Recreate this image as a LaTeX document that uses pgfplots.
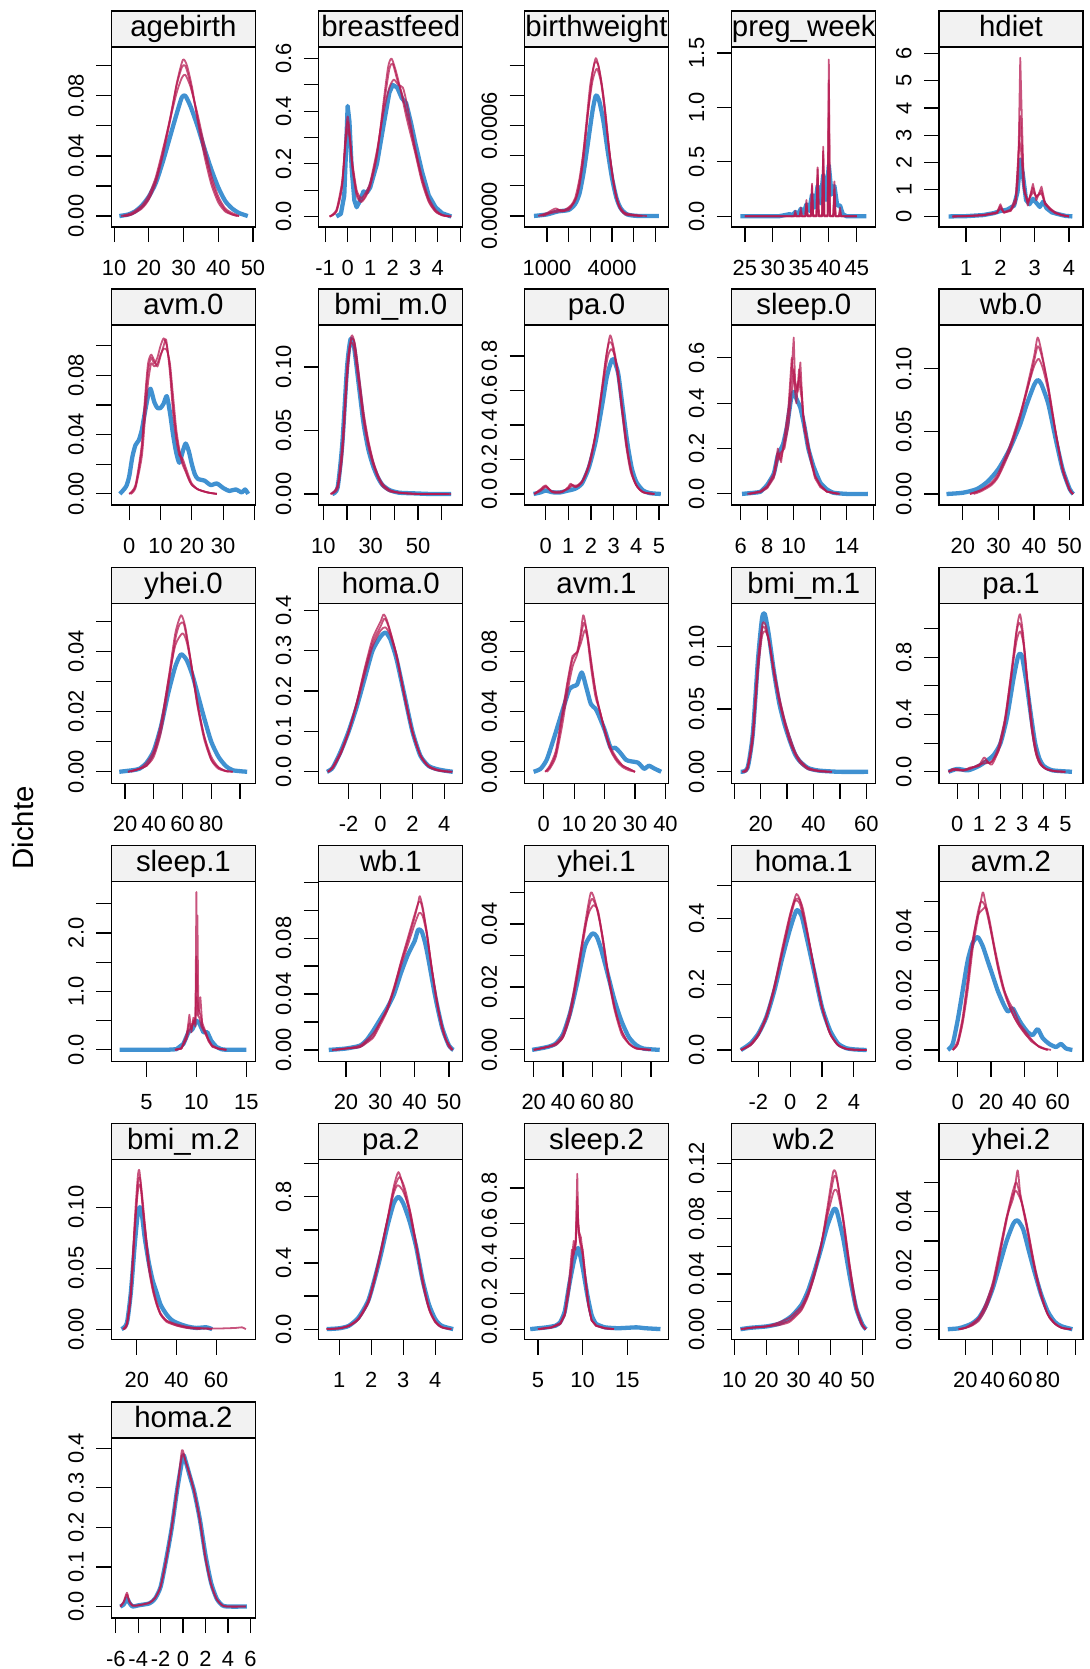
\documentclass[border=0pt]{standalone}
\usepackage{fontspec}
\setmainfont{Liberation Sans}
\usepackage{pgfplots}
\pgfplotsset{compat=1.18}
\definecolor{obsblue}{RGB}{0,108,194}
\definecolor{impred}{RGB}{182,26,81}
\definecolor{stripgray}{RGB}{242,242,242}
\pgfplotsset{
  dens/.style={
    scale only axis, width=144bp, height=180bp, anchor=south west,
    axis line style={line width=1.2bp},
    tick style={black, line width=1.2bp},
    tick align=outside, major tick length=15bp,
    tick pos=left,
    scaled ticks=false,
    tick label style={font=\fontsize{22}{22}\selectfont, inner sep=0pt, outer sep=0pt},
    xticklabel shift=18bp, yticklabel shift=12.5bp,
    xticklabel style={anchor=north},
    yticklabel style={rotate=90, anchor=south},
    every axis title shift=0pt,
    title style={at={(0.5,1)}, anchor=south, yshift=0pt, draw=black, line width=1.2bp, fill=stripgray,
      minimum width=144bp, minimum height=36bp, inner sep=0pt, outer sep=0pt,
      text height=21bp, text depth=6bp,
      font=\fontsize{29.5}{29.5}\selectfont},
  },
  obs/.style={obsblue, opacity=0.75, line width=4.3bp, line join=round, smooth, tension=0.4, mark=none},
  imp/.style={impred, opacity=0.75, line width=1.8bp, line join=round, smooth, tension=0.4, mark=none},
}
\begin{document}
\begin{tikzpicture}
\useasboundingbox (0,0) rectangle (1090bp,-1669bp);
\node[rotate=90, font=\fontsize{29.5}{29.5}\selectfont] at (23bp,-828bp) {Dichte};

% ---------------- Row 1 ----------------
\begin{axis}[dens, at={(111.4bp,-227bp)}, title={agebirth},
  xmin=9.2, xmax=50.7, ymin=-0.0073, ymax=0.1125,
  xtick={10,20,30,40,50}, xticklabels={10,20,30,40,50},
  ytick={0,0.02,0.04,0.06,0.08,0.10}, yticklabels={0.00,{},0.04,{},0.08,{}}]
\addplot[obs] coordinates {(11.5,0)(14,0.001)(16,0.003)(18,0.007)(20,0.013)(22,0.022)(24,0.036)(26,0.052)(28,0.068)(29.5,0.079)(30.5,0.080)(32,0.073)(34,0.060)(36,0.045)(38,0.031)(40,0.019)(42,0.010)(44,0.005)(46,0.002)(48.5,0)};
\addplot[imp] coordinates {(12.5,0)(15,0.001)(18,0.006)(20,0.012)(22,0.024)(24,0.042)(26,0.064)(28,0.087)(29.5,0.099)(30.5,0.100)(32,0.088)(34,0.066)(36,0.043)(38,0.024)(40,0.011)(42,0.004)(44,0.001)(46,0)};
\addplot[imp] coordinates {(12,0)(15,0.002)(18,0.007)(20,0.014)(22,0.026)(24,0.044)(26,0.063)(28,0.082)(29.5,0.092)(30.5,0.094)(32,0.086)(34,0.068)(36,0.047)(38,0.027)(40,0.013)(42,0.005)(44,0.002)(46,0)};
\addplot[imp] coordinates {(13,0)(15,0.001)(18,0.005)(20,0.011)(22,0.022)(24,0.040)(26,0.062)(28,0.088)(29.8,0.104)(31,0.100)(32.5,0.085)(34,0.064)(36,0.040)(38,0.021)(40,0.009)(42,0.003)(44,0.001)(45.5,0)};
\end{axis}

\begin{axis}[dens, at={(318.8bp,-227bp)}, title={breastfeed},
  xmin=-1.28, xmax=5.11, ymin=-0.04, ymax=0.644,
  xtick={-1,0,1,2,3,4,5}, xticklabels={-1,0,1,2,3,4,{}},
  ytick={0,0.1,0.2,0.3,0.4,0.5,0.6}, yticklabels={0.0,{},0.2,{},0.4,{},0.6}]
\addplot[obs, sharp plot] coordinates {(-0.5,0)(-0.3,0.01)(-0.15,0.08)(-0.05,0.3)(0,0.42)(0.08,0.36)(0.18,0.18)(0.3,0.06)(0.4,0.035)(0.55,0.06)(0.7,0.095)(0.85,0.09)(1.0,0.11)(1.3,0.20)(1.6,0.35)(1.85,0.47)(2.0,0.50)(2.2,0.49)(2.4,0.45)(2.6,0.43)(2.8,0.36)(3.0,0.28)(3.3,0.17)(3.6,0.08)(3.9,0.035)(4.2,0.012)(4.6,0)};
\addplot[imp] coordinates {(-0.8,0)(-0.5,0.02)(-0.25,0.12)(-0.1,0.28)(0,0.36)(0.1,0.3)(0.2,0.2)(0.4,0.09)(0.6,0.06)(0.8,0.08)(1.0,0.12)(1.3,0.24)(1.6,0.42)(1.85,0.56)(2.0,0.58)(2.2,0.52)(2.4,0.47)(2.6,0.40)(2.8,0.33)(3.0,0.25)(3.3,0.14)(3.6,0.06)(3.9,0.02)(4.2,0.005)(4.6,0)};
\addplot[imp] coordinates {(-0.8,0)(-0.5,0.025)(-0.25,0.13)(-0.1,0.27)(0,0.33)(0.1,0.29)(0.2,0.21)(0.4,0.1)(0.6,0.07)(0.8,0.09)(1.0,0.13)(1.3,0.25)(1.6,0.4)(1.85,0.49)(2.05,0.52)(2.25,0.5)(2.45,0.49)(2.6,0.44)(2.8,0.35)(3.0,0.26)(3.3,0.15)(3.6,0.07)(3.9,0.025)(4.2,0.006)(4.6,0)};
\addplot[imp] coordinates {(-0.8,0)(-0.5,0.018)(-0.25,0.11)(-0.1,0.3)(0,0.38)(0.1,0.31)(0.2,0.19)(0.4,0.08)(0.6,0.055)(0.8,0.075)(1.0,0.115)(1.3,0.23)(1.6,0.44)(1.8,0.57)(1.95,0.6)(2.15,0.55)(2.35,0.48)(2.6,0.38)(2.8,0.31)(3.0,0.24)(3.3,0.13)(3.6,0.055)(3.9,0.018)(4.2,0.004)(4.5,0)};
\end{axis}

\begin{axis}[dens, at={(524.5bp,-227bp)}, title={birthweight},
  xmin=-36, xmax=6600, ymin=-0.0000735, ymax=0.001124,
  xtick={1000,2000,3000,4000,5000,6000}, xticklabels={1000,{},{},4000,{},{}},
  ytick={0,0.0002,0.0004,0.0006,0.0008,0.0010}, yticklabels={0.0000,{},{},0.0006,{},{}}]
\addplot[obs] coordinates {(400,0)(1000,0.00001)(1500,0.00003)(2000,0.00004)(2300,0.00008)(2500,0.00015)(2700,0.0003)(2900,0.0005)(3100,0.0007)(3250,0.0008)(3400,0.00077)(3600,0.00063)(3800,0.00043)(4000,0.00025)(4200,0.00012)(4400,0.00005)(4700,0.00001)(5200,0)(6160,0)};
\addplot[imp] coordinates {(600,0)(1000,0.00002)(1400,0.00005)(1700,0.00003)(2000,0.00005)(2300,0.0001)(2500,0.0002)(2700,0.0004)(2900,0.0007)(3100,0.00095)(3250,0.00105)(3400,0.00098)(3600,0.0008)(3800,0.00052)(4000,0.00028)(4200,0.00012)(4400,0.00004)(4700,0.00001)(5600,0)};
\addplot[imp] coordinates {(700,0)(1100,0.00002)(1500,0.00004)(1800,0.00004)(2100,0.00007)(2300,0.00012)(2500,0.00025)(2700,0.00045)(2900,0.0007)(3100,0.0009)(3300,0.00098)(3500,0.00088)(3700,0.00065)(3900,0.0004)(4100,0.0002)(4300,0.00008)(4600,0.00002)(5400,0)};
\addplot[imp] coordinates {(800,0)(1200,0.00002)(1600,0.00003)(2000,0.00004)(2200,0.00008)(2400,0.00015)(2600,0.00032)(2800,0.0006)(3000,0.00088)(3200,0.00102)(3350,0.00101)(3500,0.0009)(3700,0.00068)(3900,0.0004)(4100,0.00019)(4300,0.00007)(4600,0.00001)(5300,0)};
\end{axis}

\begin{axis}[dens, at={(731.8bp,-227bp)}, title={preg\_week},
  xmin=22.66, xmax=48.4, ymin=-0.098, ymax=1.555,
  xtick={25,30,35,40,45}, xticklabels={25,30,35,40,45},
  ytick={0,0.5,1.0,1.5}, yticklabels={0.0,0.5,1.0,1.5}]
\addplot[obs, sharp plot] coordinates {(24.2,0)(31,0)(32,0.01)(33,0.02)(33.5,0.01)(34,0.04)(34.5,0.02)(35,0.07)(35.5,0.03)(36,0.11)(36.5,0.05)(37,0.2)(37.5,0.08)(38,0.28)(38.5,0.12)(39,0.38)(39.5,0.15)(40,0.47)(40.5,0.2)(41,0.28)(41.5,0.1)(42,0.1)(42.5,0.02)(43.2,0)(46.7,0)};
\addplot[imp, sharp plot] coordinates {(25,0)(33.8,0)(34,0.05)(34.2,0)(34.8,0)(35,0.08)(35.2,0)(35.8,0)(36,0.12)(36.2,0.01)(36.8,0.01)(37,0.28)(37.2,0.01)(37.8,0.01)(38,0.43)(38.2,0.01)(38.8,0.01)(39,0.64)(39.2,0.01)(39.8,0.01)(40,1.44)(40.2,0.01)(40.8,0)(41,0.25)(41.2,0)(41.8,0)(42,0.05)(42.2,0)(45,0)};
\addplot[imp, sharp plot] coordinates {(25,0)(34.8,0)(35,0.05)(35.2,0)(35.8,0)(36,0.1)(36.2,0)(36.8,0)(37,0.22)(37.2,0)(37.8,0)(38,0.45)(38.2,0)(38.8,0)(39,0.6)(39.2,0)(39.8,0)(40,1.25)(40.2,0)(40.8,0)(41,0.32)(41.2,0)(41.8,0)(42,0.08)(42.2,0)(45,0)};
\addplot[imp, sharp plot] coordinates {(25,0)(33.8,0)(34,0.03)(34.2,0)(35.8,0)(36,0.15)(36.2,0)(36.8,0)(37,0.3)(37.2,0)(37.8,0)(38,0.38)(38.2,0)(38.8,0)(39,0.52)(39.2,0)(39.8,0)(40,0.95)(40.2,0)(40.8,0)(41,0.2)(41.2,0)(45,0)};
\end{axis}

\begin{axis}[dens, at={(939bp,-227bp)}, title={hdiet},
  xmin=0.21, xmax=4.41, ymin=-0.39, ymax=6.25,
  xtick={1,2,3,4}, xticklabels={1,2,3,4},
  ytick={0,1,2,3,4,5,6}, yticklabels={0,1,2,3,4,5,6}]
\addplot[obs, sharp plot] coordinates {(0.49,0)(1.0,0.01)(1.5,0.05)(1.8,0.12)(2.0,0.2)(2.2,0.25)(2.4,0.4)(2.5,0.9)(2.58,2.1)(2.65,1.6)(2.75,0.6)(2.85,0.45)(2.95,0.65)(3.05,0.5)(3.15,0.35)(3.25,0.55)(3.35,0.3)(3.5,0.15)(3.7,0.08)(3.9,0.02)(4.1,0)};
\addplot[imp, sharp plot] coordinates {(0.6,0)(1.0,0.01)(1.5,0.05)(1.9,0.15)(2.0,0.45)(2.1,0.15)(2.3,0.2)(2.45,0.5)(2.52,1.5)(2.58,5.85)(2.62,3.9)(2.68,1.2)(2.8,0.4)(2.95,1.2)(3.05,0.6)(3.2,1.1)(3.3,0.5)(3.45,0.3)(3.6,0.15)(3.8,0.05)(4.0,0)};
\addplot[imp, sharp plot] coordinates {(0.6,0)(1.0,0.01)(1.5,0.04)(1.9,0.12)(2.0,0.38)(2.1,0.13)(2.3,0.22)(2.45,0.6)(2.52,2.0)(2.58,3.7)(2.63,2.6)(2.7,0.9)(2.8,0.5)(2.95,1.05)(3.05,0.7)(3.2,0.95)(3.3,0.45)(3.45,0.25)(3.6,0.12)(3.8,0.04)(4.0,0)};
\addplot[imp, sharp plot] coordinates {(0.6,0)(1.0,0.015)(1.5,0.05)(1.9,0.14)(2.0,0.3)(2.1,0.16)(2.3,0.25)(2.45,0.7)(2.55,2.8)(2.6,2.5)(2.68,1.0)(2.8,0.55)(2.95,0.9)(3.05,0.75)(3.2,0.85)(3.3,0.5)(3.45,0.28)(3.6,0.13)(3.8,0.05)(4.0,0)};
\end{axis}

% ---------------- Row 2 ----------------
\begin{axis}[dens, at={(111.4bp,-505bp)}, title={avm.0},
  xmin=-5.7, xmax=40.3, ymin=-0.0075, ymax=0.114,
  xtick={0,10,20,30,40}, xticklabels={0,10,20,30,{}},
  ytick={0,0.02,0.04,0.06,0.08,0.10}, yticklabels={0.00,{},0.04,{},0.08,{}}]
\addplot[obs] coordinates {(-3,0)(-1,0.005)(0,0.012)(1,0.025)(2,0.033)(3,0.036)(4,0.043)(5,0.055)(6,0.066)(6.8,0.071)(8,0.062)(9,0.058)(10,0.058)(11,0.061)(12,0.066)(13,0.055)(14,0.04)(15,0.028)(16,0.021)(17,0.028)(18,0.034)(19,0.029)(20,0.02)(21,0.013)(22,0.01)(24,0.009)(26,0.006)(28,0.007)(30,0.004)(32,0.002)(34,0.003)(36,0.001)(37,0.003)(38,0)};
\addplot[imp] coordinates {(0,0)(2,0.005)(4,0.03)(5,0.06)(6,0.083)(7,0.092)(8,0.088)(9,0.092)(10,0.1)(11,0.105)(12,0.1)(13,0.085)(14,0.06)(15,0.04)(16,0.028)(17,0.02)(18,0.015)(19,0.01)(20,0.006)(22,0.003)(25,0.001)(28,0)};
\addplot[imp] coordinates {(0.5,0)(2,0.004)(4,0.025)(5,0.05)(6,0.075)(7,0.088)(8,0.086)(9,0.088)(10,0.094)(11,0.098)(12,0.097)(13,0.088)(14,0.066)(15,0.044)(16,0.03)(17,0.022)(18,0.016)(19,0.01)(20,0.006)(22,0.003)(25,0.001)(28,0)};
\addplot[imp] coordinates {(0,0)(2,0.006)(4,0.033)(5,0.064)(6,0.088)(7,0.094)(8,0.09)(9,0.086)(10,0.093)(11,0.1)(11.8,0.104)(13,0.082)(14,0.055)(15,0.037)(16,0.026)(17,0.024)(18,0.018)(19,0.012)(20,0.007)(22,0.003)(25,0.001)(28,0)};
\end{axis}

\begin{axis}[dens, at={(318.8bp,-505bp)}, title={bmi\_m.0},
  xmin=8.05, xmax=68.9, ymin=-0.0087, ymax=0.133,
  xtick={10,20,30,40,50,60}, xticklabels={10,{},30,{},50,{}},
  ytick={0,0.05,0.10}, yticklabels={0.00,0.05,0.10}]
\addplot[obs] coordinates {(13.8,0)(16,0.005)(18,0.04)(20,0.1)(21.5,0.122)(23,0.115)(25,0.085)(27,0.055)(29,0.035)(31,0.022)(33,0.013)(35,0.007)(38,0.003)(42,0.001)(48,0.0005)(55,0)(64,0)};
\addplot[imp] coordinates {(13,0)(16,0.006)(18,0.035)(20,0.095)(21.5,0.12)(23,0.12)(25,0.09)(27,0.06)(29,0.04)(31,0.025)(33,0.014)(35,0.007)(38,0.003)(42,0.001)(50,0)(64,0)};
\addplot[imp] coordinates {(13,0)(16,0.004)(18,0.03)(20,0.09)(21.8,0.124)(23.3,0.118)(25,0.094)(27,0.064)(29,0.042)(31,0.026)(33,0.015)(35,0.008)(38,0.003)(42,0.001)(50,0)(63,0)};
\addplot[imp] coordinates {(13.5,0)(16,0.007)(18,0.04)(20,0.1)(21.3,0.118)(22.8,0.116)(25,0.086)(27,0.057)(29,0.037)(31,0.023)(33,0.013)(35,0.006)(38,0.002)(42,0.001)(50,0)(62,0)};
\end{axis}

\begin{axis}[dens, at={(524.5bp,-505bp)}, title={pa.0},
  xmin=-0.93, xmax=5.42, ymin=-0.064, ymax=0.98,
  xtick={0,1,2,3,4,5}, xticklabels={0,1,2,3,4,5},
  ytick={0,0.2,0.4,0.6,0.8}, yticklabels={0.0,0.2,0.4,0.6,0.8}]
\addplot[obs] coordinates {(-0.53,0)(-0.2,0.01)(0,0.02)(0.3,0.01)(0.6,0.008)(1.0,0.02)(1.3,0.03)(1.6,0.06)(1.9,0.15)(2.2,0.3)(2.5,0.52)(2.7,0.68)(2.9,0.77)(3.0,0.78)(3.2,0.7)(3.4,0.5)(3.6,0.3)(3.8,0.15)(4.0,0.07)(4.3,0.02)(4.6,0.005)(5.08,0)};
\addplot[imp] coordinates {(-0.5,0)(-0.2,0.03)(0,0.05)(0.3,0.01)(0.7,0.01)(1.0,0.04)(1.1,0.06)(1.3,0.04)(1.6,0.07)(1.9,0.17)(2.2,0.35)(2.5,0.62)(2.7,0.82)(2.85,0.92)(3.0,0.85)(3.2,0.7)(3.4,0.47)(3.6,0.26)(3.8,0.12)(4.0,0.05)(4.3,0.01)(4.8,0)};
\addplot[imp] coordinates {(-0.5,0)(-0.2,0.02)(0,0.04)(0.3,0.015)(0.7,0.015)(1.0,0.03)(1.2,0.05)(1.4,0.05)(1.7,0.09)(2.0,0.2)(2.3,0.42)(2.55,0.65)(2.75,0.8)(2.9,0.84)(3.05,0.8)(3.25,0.63)(3.45,0.42)(3.65,0.22)(3.85,0.1)(4.05,0.04)(4.3,0.01)(4.8,0)};
\addplot[imp] coordinates {(-0.5,0)(-0.2,0.025)(0,0.045)(0.3,0.012)(0.7,0.01)(1.0,0.035)(1.15,0.055)(1.35,0.04)(1.6,0.065)(1.9,0.16)(2.2,0.34)(2.45,0.58)(2.65,0.78)(2.8,0.88)(2.95,0.86)(3.15,0.72)(3.35,0.5)(3.55,0.28)(3.75,0.13)(4.0,0.05)(4.3,0.01)(4.8,0)};
\end{axis}

\begin{axis}[dens, at={(731.8bp,-505bp)}, title={sleep.0},
  xmin=5.33, xmax=16.19, ymin=-0.049, ymax=0.745,
  xtick={6,8,10,12,14,16}, xticklabels={6,8,10,{},14,{}},
  ytick={0,0.2,0.4,0.6}, yticklabels={0.0,0.2,0.4,0.6}]
\addplot[obs, tension=0.3] coordinates {(6.1,0)(7,0.005)(7.5,0.01)(8,0.04)(8.5,0.09)(8.8,0.17)(9.2,0.22)(9.5,0.3)(9.8,0.42)(10,0.45)(10.2,0.42)(10.5,0.38)(10.8,0.3)(11.1,0.2)(11.5,0.12)(12,0.05)(12.5,0.02)(13,0.005)(14,0)(15.6,0)};
\addplot[imp, sharp plot] coordinates {(6.5,0)(7.5,0.01)(8,0.03)(8.5,0.08)(8.8,0.2)(9.0,0.15)(9.3,0.22)(9.6,0.35)(9.8,0.5)(10.0,0.69)(10.1,0.5)(10.3,0.45)(10.5,0.58)(10.7,0.35)(11.0,0.25)(11.3,0.15)(11.6,0.08)(12.0,0.04)(12.5,0.01)(13.5,0)};
\addplot[imp, sharp plot] coordinates {(6.7,0)(7.5,0.008)(8,0.025)(8.5,0.07)(8.8,0.15)(9.0,0.18)(9.3,0.2)(9.6,0.3)(9.8,0.42)(10.0,0.55)(10.15,0.45)(10.4,0.5)(10.6,0.42)(10.8,0.3)(11.0,0.22)(11.3,0.14)(11.6,0.07)(12.0,0.03)(12.5,0.01)(13.3,0)};
\addplot[imp, sharp plot] coordinates {(6.6,0)(7.5,0.012)(8,0.035)(8.5,0.09)(8.8,0.18)(9.05,0.14)(9.3,0.25)(9.6,0.38)(9.85,0.6)(10.0,0.5)(10.2,0.4)(10.4,0.55)(10.6,0.45)(10.8,0.28)(11.0,0.24)(11.3,0.16)(11.6,0.08)(12.0,0.035)(12.5,0.01)(13.4,0)};
\end{axis}

\begin{axis}[dens, at={(939bp,-505bp)}, title={wb.0},
  xmin=13.3, xmax=53.75, ymin=-0.0088, ymax=0.135,
  xtick={20,30,40,50}, xticklabels={20,30,40,50},
  ytick={0,0.05,0.10}, yticklabels={0.00,0.05,0.10}]
\addplot[obs] coordinates {(15.4,0)(20,0.001)(24,0.004)(27,0.01)(30,0.02)(33,0.035)(36,0.055)(38,0.072)(40,0.087)(41,0.091)(42,0.088)(44,0.072)(46,0.045)(48,0.02)(50,0.004)(51,0)};
\addplot[imp] coordinates {(22,0)(25,0.003)(28,0.008)(30,0.015)(33,0.035)(36,0.062)(38,0.085)(40,0.11)(41,0.125)(42,0.115)(44,0.085)(46,0.05)(48,0.02)(50,0.003)(51,0)};
\addplot[imp] coordinates {(22,0)(25,0.003)(28,0.009)(30,0.017)(33,0.037)(36,0.063)(38,0.083)(40,0.102)(41.3,0.108)(42.5,0.1)(44,0.082)(46,0.05)(48,0.021)(50,0.004)(51,0)};
\addplot[imp] coordinates {(23,0)(25,0.002)(28,0.007)(30,0.014)(33,0.033)(36,0.06)(38,0.082)(40,0.106)(41,0.118)(42,0.112)(44,0.086)(46,0.051)(48,0.019)(50,0.003)(51,0)};
\end{axis}

% ---------------- Row 3 ----------------
\begin{axis}[dens, at={(111.4bp,-783.5bp)}, title={yhei.0},
  xmin=10.5, xmax=110.75, ymin=-0.0039, ymax=0.0559,
  xtick={20,40,60,80,100}, xticklabels={20,40,60,80,{}},
  ytick={0,0.01,0.02,0.03,0.04,0.05}, yticklabels={0.00,{},0.02,{},0.04,{}}]
\addplot[obs] coordinates {(16,0)(25,0.0005)(30,0.001)(35,0.003)(40,0.007)(45,0.015)(50,0.026)(55,0.035)(59,0.039)(63,0.037)(67,0.032)(71,0.025)(75,0.018)(80,0.01)(85,0.005)(90,0.002)(95,0.0005)(105,0)};
\addplot[imp] coordinates {(22,0)(30,0.001)(35,0.002)(40,0.006)(45,0.015)(50,0.03)(55,0.046)(59,0.052)(62,0.048)(66,0.036)(70,0.023)(75,0.011)(80,0.004)(85,0.0015)(90,0.0003)(95,0)};
\addplot[imp] coordinates {(22,0)(30,0.001)(35,0.003)(40,0.007)(45,0.016)(50,0.03)(55,0.042)(60,0.046)(63,0.043)(67,0.033)(71,0.021)(75,0.012)(80,0.005)(85,0.0015)(90,0.0003)(95,0)};
\addplot[imp] coordinates {(24,0)(30,0.001)(35,0.002)(40,0.005)(45,0.013)(50,0.028)(55,0.044)(58,0.049)(61,0.049)(65,0.039)(70,0.024)(75,0.012)(80,0.004)(85,0.001)(92,0)};
\end{axis}

\begin{axis}[dens, at={(318.8bp,-783.5bp)}, title={homa.0},
  xmin=-3.87, xmax=5.16, ymin=-0.029, ymax=0.417,
  xtick={-2,0,2,4}, xticklabels={-2,0,2,4},
  ytick={0,0.1,0.2,0.3,0.4}, yticklabels={0.0,0.1,0.2,0.3,0.4}]
\addplot[obs] coordinates {(-3.36,0)(-3,0.01)(-2.5,0.05)(-2,0.1)(-1.5,0.16)(-1,0.23)(-0.5,0.3)(0,0.335)(0.3,0.345)(0.6,0.33)(1,0.28)(1.5,0.19)(2,0.1)(2.5,0.04)(3,0.015)(3.5,0.007)(4,0.003)(4.53,0)};
\addplot[imp] coordinates {(-3.3,0)(-3,0.01)(-2.5,0.045)(-2,0.1)(-1.5,0.17)(-1,0.25)(-0.5,0.32)(0,0.36)(0.25,0.38)(0.5,0.36)(1,0.29)(1.5,0.19)(2,0.1)(2.5,0.04)(3,0.014)(3.5,0.005)(4,0.001)(4.5,0)};
\addplot[imp] coordinates {(-3.3,0)(-3,0.012)(-2.5,0.05)(-2,0.1)(-1.5,0.165)(-1,0.24)(-0.5,0.31)(0,0.35)(0.3,0.358)(0.6,0.34)(1,0.285)(1.5,0.19)(2,0.1)(2.5,0.042)(3,0.015)(3.5,0.006)(4,0.002)(4.5,0)};
\addplot[imp] coordinates {(-3.3,0)(-3,0.009)(-2.5,0.044)(-2,0.098)(-1.5,0.17)(-1,0.255)(-0.5,0.33)(0,0.372)(0.2,0.39)(0.45,0.37)(1,0.29)(1.5,0.185)(2,0.098)(2.5,0.04)(3,0.013)(3.5,0.004)(4,0.001)(4.4,0)};
\end{axis}

\begin{axis}[dens, at={(524.5bp,-783.5bp)}, title={avm.1},
  xmin=-6.3, xmax=41, ymin=-0.0078, ymax=0.1118,
  xtick={0,10,20,30,40}, xticklabels={0,10,20,30,40},
  ytick={0,0.02,0.04,0.06,0.08,0.10}, yticklabels={0.00,{},0.04,{},0.08,{}}]
\addplot[obs] coordinates {(-3.3,0)(-1,0.002)(1,0.008)(3,0.02)(5,0.033)(7,0.046)(8.5,0.055)(10,0.057)(11,0.058)(12.5,0.066)(14,0.056)(15.5,0.045)(17,0.042)(18,0.038)(20,0.028)(22,0.016)(23.5,0.016)(25,0.013)(27,0.008)(28.5,0.007)(31,0.006)(33,0.002)(34.5,0.004)(36.5,0.002)(38.6,0)};
\addplot[imp] coordinates {(0.5,0)(2,0.003)(4,0.012)(6,0.035)(8,0.06)(9.5,0.075)(11,0.08)(12,0.09)(13,0.104)(14,0.095)(15.5,0.07)(17,0.05)(18.5,0.04)(20,0.028)(22,0.015)(24,0.008)(26,0.004)(28,0.002)(30,0)};
\addplot[imp] coordinates {(0.5,0)(2,0.004)(4,0.014)(6,0.038)(8,0.062)(9.5,0.077)(11,0.079)(12.3,0.086)(13.5,0.094)(14.5,0.088)(16,0.066)(17.5,0.048)(19,0.036)(20.5,0.025)(22,0.016)(24,0.009)(26,0.004)(28,0.002)(30,0)};
\addplot[imp] coordinates {(1,0)(2,0.002)(4,0.01)(6,0.03)(8,0.055)(9.5,0.07)(11,0.078)(12,0.088)(13.2,0.099)(14.3,0.092)(15.5,0.075)(17,0.054)(18.5,0.04)(20,0.027)(22,0.014)(24,0.007)(26,0.003)(28,0.001)(30,0)};
\end{axis}

\begin{axis}[dens, at={(731.8bp,-783.5bp)}, title={bmi\_m.1},
  xmin=9.06, xmax=63.6, ymin=-0.0093, ymax=0.134,
  xtick={10,20,30,40,50,60}, xticklabels={{},20,{},40,{},60},
  ytick={0,0.05,0.10}, yticklabels={0.00,0.05,0.10}]
\addplot[obs] coordinates {(12.4,0)(15,0.003)(17,0.03)(19,0.09)(20.5,0.122)(21.5,0.126)(23,0.11)(25,0.08)(27,0.055)(29,0.038)(31,0.025)(33,0.014)(35,0.008)(38,0.003)(42,0.001)(50,0)(60.7,0)};
\addplot[imp] coordinates {(13,0)(15,0.003)(17,0.028)(19,0.085)(20.5,0.113)(21.5,0.115)(23,0.105)(25,0.08)(27,0.058)(29,0.04)(31,0.025)(33,0.015)(35,0.008)(38,0.003)(42,0.0005)(47,0)};
\addplot[imp] coordinates {(13,0)(15,0.004)(17,0.032)(19,0.09)(20.7,0.118)(22,0.116)(23.5,0.1)(25,0.082)(27,0.06)(29,0.042)(31,0.028)(33,0.016)(35,0.009)(38,0.003)(42,0.001)(47,0)};
\addplot[imp] coordinates {(13.5,0)(15,0.002)(17,0.025)(19,0.08)(20.5,0.108)(21.8,0.112)(23.2,0.104)(25,0.078)(27,0.056)(29,0.039)(31,0.024)(33,0.014)(35,0.007)(38,0.002)(42,0.0005)(46,0)};
\end{axis}

\begin{axis}[dens, at={(939bp,-783.5bp)}, title={pa.1},
  xmin=-0.84, xmax=5.81, ymin=-0.082, ymax=1.175,
  xtick={0,1,2,3,4,5}, xticklabels={0,1,2,3,4,5},
  ytick={0,0.2,0.4,0.6,0.8,1.0}, yticklabels={0.0,{},0.4,{},0.8,{}}]
\addplot[obs] coordinates {(-0.4,0)(0,0.02)(0.5,0.01)(1,0.04)(1.4,0.08)(1.7,0.12)(2.0,0.2)(2.3,0.38)(2.6,0.65)(2.8,0.8)(2.9,0.825)(3.0,0.8)(3.2,0.62)(3.4,0.4)(3.6,0.2)(3.8,0.09)(4.0,0.04)(4.4,0.01)(5.3,0)};
\addplot[imp] coordinates {(-0.4,0)(-0.2,0.02)(0,0.01)(0.3,0.01)(0.6,0.03)(1.0,0.04)(1.3,0.08)(1.6,0.05)(1.9,0.15)(2.2,0.35)(2.5,0.7)(2.75,1.0)(2.9,1.1)(3.05,0.95)(3.25,0.6)(3.45,0.3)(3.65,0.12)(3.85,0.05)(4.1,0.02)(4.5,0.005)(5.0,0)};
\addplot[imp] coordinates {(-0.4,0)(-0.2,0.015)(0,0.02)(0.3,0.008)(0.6,0.02)(1.0,0.05)(1.3,0.06)(1.6,0.07)(1.9,0.17)(2.2,0.37)(2.5,0.68)(2.75,0.92)(2.92,0.98)(3.1,0.86)(3.3,0.55)(3.5,0.28)(3.7,0.12)(3.9,0.05)(4.1,0.02)(4.5,0.004)(5.0,0)};
\addplot[imp] coordinates {(-0.4,0)(-0.2,0.01)(0,0.015)(0.3,0.012)(0.6,0.025)(1.0,0.045)(1.25,0.1)(1.5,0.06)(1.9,0.14)(2.2,0.33)(2.5,0.66)(2.72,0.95)(2.85,1.04)(3.0,0.98)(3.2,0.68)(3.4,0.35)(3.6,0.15)(3.8,0.06)(4.1,0.02)(4.5,0.004)(5.0,0)};
\end{axis}

% ---------------- Row 4 ----------------
\begin{axis}[dens, at={(111.4bp,-1061.5bp)}, title={sleep.1},
  xmin=1.5, xmax=15.9, ymin=-0.2, ymax=2.88,
  xtick={5,10,15}, xticklabels={5,10,15},
  ytick={0,0.5,1.0,1.5,2.0,2.5}, yticklabels={0.0,{},1.0,{},2.0,{}}]
\addplot[obs, sharp plot] coordinates {(2.32,0)(7,0)(8,0.01)(8.7,0.1)(9.2,0.3)(9.6,0.35)(10,0.5)(10.3,0.45)(10.7,0.3)(11.1,0.3)(11.5,0.15)(12,0.05)(12.5,0.01)(13,0)(15,0)};
\addplot[imp, sharp plot] coordinates {(7.86,0)(8.5,0.02)(9,0.2)(9.3,0.6)(9.5,0.3)(9.7,0.55)(9.9,0.4)(10,2.7)(10.05,1.0)(10.1,2.3)(10.2,0.6)(10.4,0.9)(10.6,0.4)(10.9,0.3)(11.2,0.15)(11.6,0.05)(12.2,0.02)(13,0)};
\addplot[imp, sharp plot] coordinates {(7.86,0)(8.5,0.03)(9,0.25)(9.3,0.45)(9.5,0.35)(9.7,0.5)(9.9,0.45)(10,1.6)(10.1,0.9)(10.2,0.7)(10.4,0.6)(10.6,0.45)(10.9,0.32)(11.2,0.18)(11.6,0.06)(12.2,0.02)(13,0)};
\addplot[imp, sharp plot] coordinates {(7.9,0)(8.5,0.02)(9,0.18)(9.3,0.35)(9.5,0.4)(9.7,0.45)(9.9,0.55)(10,0.9)(10.1,0.6)(10.3,0.55)(10.5,0.4)(10.8,0.3)(11.1,0.2)(11.5,0.08)(12.2,0.02)(13,0)};
\end{axis}

\begin{axis}[dens, at={(318.8bp,-1061.5bp)}, title={wb.1},
  xmin=12.1, xmax=54, ymin=-0.0083, ymax=0.1205,
  xtick={20,30,40,50}, xticklabels={20,30,40,50},
  ytick={0,0.02,0.04,0.06,0.08,0.10,0.12}, yticklabels={0.00,{},0.04,{},0.08,{},{}}]
\addplot[obs] coordinates {(15,0)(20,0.001)(24,0.003)(26,0.007)(28,0.014)(30,0.022)(32,0.03)(34,0.04)(36,0.055)(38,0.068)(40,0.078)(41,0.086)(42,0.085)(43,0.077)(44,0.065)(46,0.038)(48,0.016)(50,0.003)(51.3,0)};
\addplot[imp] coordinates {(16,0)(20,0.001)(24,0.002)(26,0.006)(28,0.01)(30,0.02)(32,0.03)(34,0.045)(36,0.062)(38,0.078)(40,0.095)(41,0.105)(41.5,0.11)(42.5,0.1)(44,0.075)(46,0.04)(48,0.015)(50,0.002)(51,0)};
\addplot[imp] coordinates {(16,0)(20,0.001)(24,0.003)(26,0.007)(28,0.012)(30,0.02)(32,0.029)(34,0.043)(36,0.06)(38,0.075)(40,0.09)(41.3,0.098)(42.3,0.096)(43.5,0.083)(45,0.058)(47,0.028)(49,0.008)(51,0)};
\addplot[imp] coordinates {(17,0)(20,0.001)(24,0.002)(26,0.005)(28,0.009)(30,0.018)(32,0.028)(34,0.044)(36,0.063)(38,0.08)(40,0.097)(41.2,0.106)(42,0.104)(43.5,0.085)(45,0.058)(47,0.027)(49,0.008)(51,0)};
\end{axis}

\begin{axis}[dens, at={(524.5bp,-1061.5bp)}, title={yhei.1},
  xmin=13.7, xmax=112, ymin=-0.0037, ymax=0.0535,
  xtick={20,40,60,80,100}, xticklabels={20,40,60,80,{}},
  ytick={0,0.01,0.02,0.03,0.04,0.05}, yticklabels={0.00,{},0.02,{},0.04,{}}]
\addplot[obs] coordinates {(18.9,0)(25,0.0005)(30,0.001)(35,0.002)(40,0.005)(45,0.012)(50,0.022)(55,0.033)(60,0.037)(63,0.036)(66,0.032)(70,0.025)(75,0.016)(80,0.009)(85,0.004)(90,0.0015)(95,0.0004)(106,0)};
\addplot[imp] coordinates {(20,0)(30,0.001)(35,0.002)(40,0.004)(45,0.012)(50,0.025)(55,0.04)(59,0.05)(62,0.047)(65,0.041)(70,0.026)(75,0.014)(80,0.006)(85,0.002)(90,0.0005)(100,0)};
\addplot[imp] coordinates {(20,0)(30,0.001)(35,0.002)(40,0.005)(45,0.013)(50,0.026)(55,0.039)(58,0.044)(61,0.046)(64,0.044)(68,0.033)(72,0.021)(76,0.012)(80,0.006)(85,0.002)(90,0.0005)(100,0)};
\addplot[imp] coordinates {(20,0)(30,0.001)(35,0.0015)(40,0.004)(45,0.011)(50,0.024)(55,0.038)(58,0.046)(60,0.048)(63,0.045)(67,0.036)(71,0.023)(75,0.013)(80,0.005)(85,0.002)(90,0.0004)(100,0)};
\end{axis}

\begin{axis}[dens, at={(731.8bp,-1061.5bp)}, title={homa.1},
  xmin=-3.67, xmax=5.38, ymin=-0.035, ymax=0.513,
  xtick={-2,0,2,4}, xticklabels={-2,0,2,4},
  ytick={0,0.1,0.2,0.3,0.4,0.5}, yticklabels={0.0,{},0.2,{},0.4,{}}]
\addplot[obs] coordinates {(-3.1,0)(-2.5,0.02)(-2,0.05)(-1.5,0.1)(-1,0.18)(-0.5,0.28)(0,0.37)(0.4,0.425)(0.7,0.41)(1,0.35)(1.5,0.24)(2,0.13)(2.5,0.06)(3,0.02)(3.5,0.006)(4,0.002)(4.8,0)};
\addplot[imp] coordinates {(-3.1,0)(-2.5,0.015)(-2,0.045)(-1.5,0.1)(-1,0.19)(-0.5,0.3)(0,0.41)(0.4,0.475)(0.8,0.43)(1.2,0.33)(1.6,0.22)(2,0.13)(2.5,0.05)(3,0.015)(3.5,0.004)(4,0.001)(4.8,0)};
\addplot[imp] coordinates {(-3.1,0)(-2.5,0.018)(-2,0.05)(-1.5,0.105)(-1,0.195)(-0.5,0.31)(0,0.415)(0.3,0.455)(0.6,0.445)(1,0.37)(1.5,0.25)(2,0.13)(2.5,0.052)(3,0.016)(3.5,0.004)(4,0.001)(4.8,0)};
\addplot[imp] coordinates {(-3.1,0)(-2.5,0.014)(-2,0.044)(-1.5,0.098)(-1,0.185)(-0.5,0.295)(0,0.4)(0.35,0.46)(0.65,0.45)(1.1,0.35)(1.6,0.225)(2,0.13)(2.5,0.05)(3,0.015)(3.5,0.004)(4,0.001)(4.8,0)};
\end{axis}

\begin{axis}[dens, at={(939bp,-1061.5bp)}, title={avm.2},
  xmin=-11.2, xmax=75.2, ymin=-0.0039, ymax=0.0567,
  xtick={0,20,40,60}, xticklabels={0,20,40,60},
  ytick={0,0.01,0.02,0.03,0.04,0.05}, yticklabels={0.00,{},0.02,{},0.04,{}}]
\addplot[obs] coordinates {(-5.9,0)(-3,0.002)(0,0.01)(3,0.02)(6,0.03)(9,0.036)(12,0.038)(15,0.035)(18,0.03)(21,0.025)(24,0.02)(27,0.016)(30,0.013)(33,0.014)(35,0.012)(38,0.009)(42,0.006)(45,0.005)(48,0.007)(51,0.004)(55,0.002)(59,0.001)(62,0.002)(65,0.0005)(68.8,0)};
\addplot[imp] coordinates {(-3,0)(0,0.002)(3,0.01)(6,0.022)(9,0.036)(12,0.046)(14,0.05)(16,0.049)(18,0.045)(21,0.037)(24,0.028)(27,0.021)(30,0.016)(33,0.012)(36,0.009)(40,0.006)(44,0.003)(48,0.0015)(52,0.0005)(56,0)};
\addplot[imp] coordinates {(-3,0)(0,0.002)(3,0.009)(6,0.02)(9,0.034)(12,0.044)(15,0.053)(16.5,0.05)(19,0.043)(22,0.034)(25,0.026)(28,0.02)(31,0.016)(34,0.013)(37,0.009)(41,0.006)(45,0.003)(49,0.001)(54,0)};
\addplot[imp] coordinates {(-3,0)(0,0.003)(3,0.011)(6,0.024)(9,0.037)(12,0.045)(14.5,0.047)(17,0.048)(19,0.044)(22,0.035)(25,0.027)(28,0.02)(31,0.015)(34,0.011)(37,0.008)(41,0.005)(45,0.003)(49,0.001)(54,0)};
\end{axis}

% ---------------- Row 5 ----------------
\begin{axis}[dens, at={(111.4bp,-1339.5bp)}, title={bmi\_m.2},
  xmin=7.2, xmax=79.8, ymin=-0.0085, ymax=0.139,
  xtick={20,40,60}, xticklabels={20,40,60},
  ytick={0,0.05,0.10}, yticklabels={0.00,0.05,0.10}]
\addplot[obs] coordinates {(12.3,0)(15,0.005)(17,0.03)(19,0.07)(20.5,0.095)(21.5,0.1)(22.5,0.095)(24,0.075)(26,0.055)(28,0.04)(30,0.03)(32,0.02)(35,0.012)(38,0.007)(42,0.004)(46,0.002)(50,0.001)(55,0.0015)(58,0)};
\addplot[imp] coordinates {(13,0)(15,0.004)(17,0.03)(19,0.09)(20.5,0.125)(21.3,0.13)(22.5,0.11)(24,0.08)(26,0.05)(28,0.032)(30,0.02)(32,0.012)(35,0.007)(40,0.004)(45,0.002)(50,0.001)(60,0.0005)(70,0.001)(73,0.0015)(75,0)};
\addplot[imp] coordinates {(13,0)(15,0.005)(17,0.032)(19,0.085)(20.7,0.115)(21.8,0.118)(23,0.1)(24.5,0.078)(26,0.055)(28,0.035)(30,0.022)(32,0.013)(35,0.007)(40,0.003)(45,0.0015)(50,0.0008)(58,0)};
\addplot[imp] coordinates {(13.5,0)(15,0.003)(17,0.026)(19,0.08)(20.6,0.12)(21.6,0.124)(22.8,0.108)(24.3,0.082)(26,0.054)(28,0.034)(30,0.021)(32,0.012)(35,0.006)(40,0.003)(45,0.001)(52,0)};
\end{axis}

\begin{axis}[dens, at={(318.8bp,-1339.5bp)}, title={pa.2},
  xmin=0.36, xmax=4.86, ymin=-0.063, ymax=1.026,
  xtick={1,2,3,4}, xticklabels={1,2,3,4},
  ytick={0,0.2,0.4,0.6,0.8,1.0}, yticklabels={0.0,{},0.4,{},0.8,{}}]
\addplot[obs] coordinates {(0.61,0)(1,0.005)(1.3,0.02)(1.6,0.07)(1.9,0.17)(2.1,0.3)(2.3,0.45)(2.5,0.62)(2.7,0.76)(2.85,0.8)(3.0,0.76)(3.2,0.65)(3.4,0.5)(3.6,0.3)(3.8,0.15)(4.0,0.06)(4.2,0.02)(4.56,0)};
\addplot[imp] coordinates {(0.6,0)(1,0.005)(1.3,0.02)(1.6,0.06)(1.9,0.16)(2.1,0.3)(2.3,0.47)(2.5,0.66)(2.7,0.86)(2.85,0.95)(3.0,0.86)(3.2,0.7)(3.4,0.5)(3.6,0.28)(3.8,0.12)(4.0,0.04)(4.2,0.01)(4.5,0)};
\addplot[imp] coordinates {(0.6,0)(1,0.005)(1.3,0.022)(1.6,0.065)(1.9,0.17)(2.1,0.31)(2.3,0.48)(2.5,0.66)(2.7,0.82)(2.82,0.87)(2.98,0.84)(3.2,0.72)(3.4,0.52)(3.6,0.3)(3.8,0.13)(4.0,0.045)(4.2,0.012)(4.5,0)};
\addplot[imp] coordinates {(0.65,0)(1,0.004)(1.3,0.018)(1.6,0.058)(1.9,0.155)(2.1,0.29)(2.3,0.46)(2.5,0.65)(2.7,0.84)(2.88,0.92)(3.05,0.85)(3.25,0.68)(3.45,0.46)(3.65,0.25)(3.85,0.1)(4.05,0.035)(4.25,0.008)(4.5,0)};
\end{axis}

\begin{axis}[dens, at={(524.5bp,-1339.5bp)}, title={sleep.2},
  xmin=3.5, xmax=19.6, ymin=-0.059, ymax=0.961,
  xtick={5,10,15}, xticklabels={5,10,15},
  ytick={0,0.2,0.4,0.6,0.8}, yticklabels={0.0,0.2,0.4,0.6,0.8}]
\addplot[obs, tension=0.3] coordinates {(4.14,0)(6,0.01)(7,0.02)(7.5,0.04)(8,0.1)(8.5,0.25)(9,0.38)(9.5,0.46)(10,0.35)(10.5,0.2)(11,0.08)(11.5,0.03)(12.5,0.01)(14,0.005)(16,0.01)(17,0.005)(18.7,0)};
\addplot[imp, sharp plot] coordinates {(5,0)(6.5,0.01)(7.5,0.03)(8,0.08)(8.5,0.25)(8.8,0.4)(9.0,0.5)(9.2,0.45)(9.4,0.88)(9.5,0.6)(9.7,0.5)(10.0,0.45)(10.3,0.3)(10.6,0.15)(11,0.05)(11.5,0.02)(12.5,0.005)(13.5,0)};
\addplot[imp, sharp plot] coordinates {(5,0)(6.5,0.01)(7.5,0.035)(8,0.09)(8.5,0.28)(8.8,0.45)(9.0,0.42)(9.2,0.48)(9.4,0.65)(9.6,0.55)(9.8,0.52)(10.1,0.4)(10.4,0.25)(10.7,0.12)(11,0.05)(11.5,0.02)(12.5,0.005)(13.5,0)};
\addplot[imp, sharp plot] coordinates {(5.2,0)(6.5,0.008)(7.5,0.028)(8,0.075)(8.5,0.22)(8.8,0.35)(9.0,0.45)(9.25,0.5)(9.4,0.75)(9.55,0.55)(9.75,0.48)(10.0,0.42)(10.3,0.28)(10.6,0.14)(11,0.05)(11.5,0.018)(12.5,0.004)(13.5,0)};
\end{axis}

\begin{axis}[dens, at={(731.8bp,-1339.5bp)}, title={wb.2},
  xmin=9.2, xmax=54.1, ymin=-0.0075, ymax=0.123,
  xtick={10,20,30,40,50}, xticklabels={10,20,30,40,50},
  ytick={0,0.02,0.04,0.06,0.08,0.10,0.12}, yticklabels={0.00,{},0.04,{},0.08,{},0.12}]
\addplot[obs] coordinates {(11.9,0)(15,0.001)(20,0.002)(24,0.004)(27,0.008)(28.5,0.011)(31,0.018)(33,0.028)(35,0.042)(37,0.058)(39,0.075)(41,0.087)(42,0.085)(44,0.065)(46,0.038)(48,0.015)(50,0.003)(51.1,0)};
\addplot[imp] coordinates {(12,0)(15,0.001)(20,0.002)(24,0.004)(27,0.006)(29,0.01)(31,0.015)(33,0.025)(35,0.04)(37,0.06)(39,0.085)(41,0.11)(42,0.108)(44,0.08)(46,0.045)(48,0.015)(50,0.002)(51,0)};
\addplot[imp] coordinates {(12,0)(15,0.001)(20,0.002)(24,0.005)(27,0.008)(29,0.012)(31,0.017)(33,0.027)(35,0.042)(37,0.061)(39,0.082)(41,0.1)(42.2,0.099)(44,0.078)(46,0.046)(48,0.017)(50,0.003)(51,0)};
\addplot[imp] coordinates {(13,0)(15,0.001)(20,0.002)(24,0.003)(27,0.005)(29,0.009)(31,0.014)(33,0.024)(35,0.039)(37,0.06)(39,0.088)(40.8,0.114)(41.8,0.112)(43.5,0.086)(45.5,0.05)(47.5,0.019)(49.5,0.004)(51,0)};
\end{axis}

\begin{axis}[dens, at={(939bp,-1339.5bp)}, title={yhei.2},
  xmin=0.8, xmax=105.6, ymin=-0.0035, ymax=0.0577,
  xtick={20,40,60,80,100}, xticklabels={20,40,60,80,{}},
  ytick={0,0.01,0.02,0.03,0.04,0.05}, yticklabels={0.00,{},0.02,{},0.04,{}}]
\addplot[obs] coordinates {(7.2,0)(15,0.0003)(20,0.001)(25,0.002)(30,0.004)(35,0.008)(40,0.014)(45,0.022)(50,0.03)(55,0.036)(58,0.037)(62,0.034)(66,0.027)(70,0.02)(75,0.012)(80,0.006)(85,0.0025)(90,0.001)(97.9,0)};
\addplot[imp] coordinates {(15,0)(20,0.0005)(25,0.0015)(30,0.004)(35,0.008)(40,0.015)(45,0.026)(50,0.038)(54,0.046)(57,0.05)(60,0.045)(64,0.036)(68,0.026)(72,0.017)(76,0.01)(80,0.005)(85,0.002)(90,0.0005)(97,0)};
\addplot[imp] coordinates {(15,0)(20,0.0005)(25,0.002)(30,0.004)(35,0.009)(40,0.016)(45,0.027)(50,0.038)(55,0.045)(58,0.054)(60,0.046)(64,0.037)(68,0.027)(72,0.017)(76,0.01)(80,0.005)(85,0.002)(90,0.0005)(97,0)};
\addplot[imp] coordinates {(16,0)(20,0.0004)(25,0.0013)(30,0.003)(35,0.007)(40,0.014)(45,0.025)(50,0.037)(54,0.045)(57,0.047)(61,0.043)(65,0.035)(69,0.025)(73,0.016)(77,0.009)(81,0.004)(86,0.0015)(91,0.0003)(97,0)};
\end{axis}

% ---------------- Row 6 ----------------
\begin{axis}[dens, at={(111.4bp,-1618bp)}, title={homa.2},
  xmin=-6.39, xmax=6.45, ymin=-0.029, ymax=0.426,
  xtick={-6,-4,-2,0,2,4,6}, xticklabels={-6,-4,-2,0,2,4,6},
  ytick={0,0.1,0.2,0.3,0.4}, yticklabels={0.0,0.1,0.2,0.3,0.4}]
\addplot[obs] coordinates {(-5.6,0)(-5.3,0.005)(-5.0,0.02)(-4.8,0.01)(-4.5,0)(-4,0.003)(-3,0.008)(-2.5,0.02)(-2,0.05)(-1.5,0.12)(-1,0.2)(-0.5,0.3)(0,0.38)(0.2,0.37)(0.6,0.33)(1,0.29)(1.5,0.22)(2,0.13)(2.5,0.06)(3,0.02)(3.5,0.003)(4,0)(5.7,0)};
\addplot[imp] coordinates {(-5.6,0)(-5.3,0.012)(-5.0,0.035)(-4.8,0.012)(-4.5,0.002)(-4,0.003)(-3,0.01)(-2.5,0.022)(-2,0.05)(-1.5,0.12)(-1,0.2)(-0.5,0.3)(-0.1,0.395)(0.2,0.37)(0.6,0.33)(1,0.29)(1.5,0.22)(2,0.12)(2.5,0.055)(3,0.018)(3.5,0.003)(4,0)(5.6,0)};
\addplot[imp] coordinates {(-5.6,0)(-5.3,0.01)(-5.0,0.03)(-4.8,0.014)(-4.5,0.003)(-4,0.003)(-3,0.009)(-2.5,0.021)(-2,0.052)(-1.5,0.118)(-1,0.205)(-0.5,0.305)(-0.05,0.385)(0.25,0.365)(0.6,0.335)(1,0.29)(1.5,0.215)(2,0.125)(2.5,0.057)(3,0.019)(3.5,0.003)(4,0)(5.6,0)};
\end{axis}
\end{tikzpicture}
\end{document}
